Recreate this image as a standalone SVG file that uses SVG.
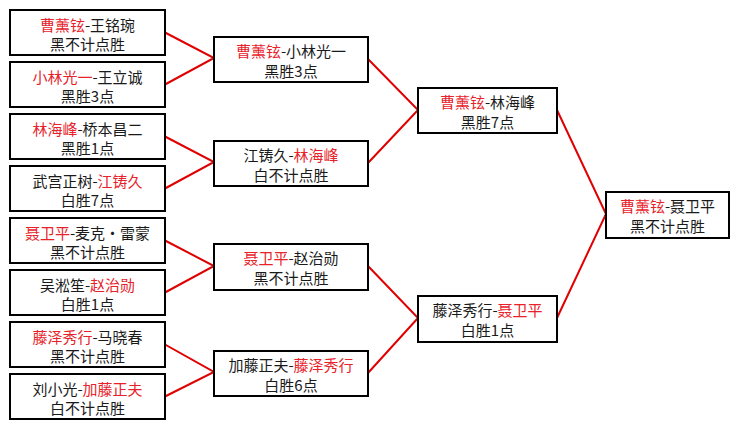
<svg xmlns="http://www.w3.org/2000/svg" width="739" height="429" viewBox="0 0 739 429">
<style>
.box{fill:#fff;stroke:#000;stroke-width:2}
.t{font-family:"Noto Sans CJK SC","Noto Sans",sans-serif;font-size:15px;fill:#1a1a1a;text-anchor:middle}
.r{fill:#e8222a}
.c{fill:none;stroke:#e00000;stroke-width:2}
</style>
<rect width="739" height="429" fill="#fff"/>
<g id="connectors">
<polyline class="c" points="165,32.5 214,58 165,84.5"/>
<polyline class="c" points="165,136.5 214,162 165,188.5"/>
<polyline class="c" points="165,240.5 214,266 165,292.5"/>
<polyline class="c" points="165,344.5 214,372 165,396.5"/>
<polyline class="c" points="368,59 418,110 368,163"/>
<polyline class="c" points="368,266 418,318 368,373"/>
<polyline class="c" points="557,110 606,214 557,318"/>
</g>
<g id="n1"><rect class="box" x="10" y="10" width="155" height="45"/><text class="t" x="87.5" y="31"><tspan class="r">曹薰铉</tspan>-王铭琬</text><text class="t" x="87.5" y="50">黑不计点胜</text></g>
<g id="n2"><rect class="box" x="10" y="62" width="155" height="45"/><text class="t" x="87.5" y="83"><tspan class="r">小林光一</tspan>-王立诚</text><text class="t" x="87.5" y="102">黑胜3点</text></g>
<g id="n3"><rect class="box" x="10" y="114" width="155" height="45"/><text class="t" x="87.5" y="135"><tspan class="r">林海峰</tspan>-桥本昌二</text><text class="t" x="87.5" y="154">黑胜1点</text></g>
<g id="n4"><rect class="box" x="10" y="166" width="155" height="45"/><text class="t" x="87.5" y="187">武宫正树-<tspan class="r">江铸久</tspan></text><text class="t" x="87.5" y="206">白胜7点</text></g>
<g id="n5"><rect class="box" x="10" y="218" width="155" height="45"/><text class="t" x="87.5" y="239"><tspan class="r">聂卫平</tspan>-麦克・雷蒙</text><text class="t" x="87.5" y="258">黑不计点胜</text></g>
<g id="n6"><rect class="box" x="10" y="270" width="155" height="45"/><text class="t" x="87.5" y="291">吴淞笙-<tspan class="r">赵治勋</tspan></text><text class="t" x="87.5" y="310">白胜1点</text></g>
<g id="n7"><rect class="box" x="10" y="322" width="155" height="45"/><text class="t" x="87.5" y="343"><tspan class="r">藤泽秀行</tspan>-马晓春</text><text class="t" x="87.5" y="362">黑不计点胜</text></g>
<g id="n8"><rect class="box" x="10" y="374" width="155" height="45"/><text class="t" x="87.5" y="395">刘小光-<tspan class="r">加藤正夫</tspan></text><text class="t" x="87.5" y="414">白不计点胜</text></g>
<g id="q1"><rect class="box" x="214" y="37" width="154" height="45"/><text class="t" x="291" y="57"><tspan class="r">曹薰铉</tspan>-小林光一</text><text class="t" x="291" y="77">黑胜3点</text></g>
<g id="q2"><rect class="box" x="214" y="141" width="154" height="45"/><text class="t" x="291" y="161">江铸久-<tspan class="r">林海峰</tspan></text><text class="t" x="291" y="181">白不计点胜</text></g>
<g id="q3"><rect class="box" x="214" y="244" width="154" height="46"/><text class="t" x="291" y="264"><tspan class="r">聂卫平</tspan>-赵治勋</text><text class="t" x="291" y="284">黑不计点胜</text></g>
<g id="q4"><rect class="box" x="214" y="351" width="154" height="45"/><text class="t" x="291" y="371">加藤正夫-<tspan class="r">藤泽秀行</tspan></text><text class="t" x="291" y="391">白胜6点</text></g>
<g id="s1"><rect class="box" x="418" y="88" width="139" height="45"/><text class="t" x="487.5" y="108"><tspan class="r">曹薰铉</tspan>-林海峰</text><text class="t" x="487.5" y="128">黑胜7点</text></g>
<g id="s2"><rect class="box" x="418" y="296" width="139" height="46"/><text class="t" x="487.5" y="316">藤泽秀行-<tspan class="r">聂卫平</tspan></text><text class="t" x="487.5" y="336">白胜1点</text></g>
<g id="f"><rect class="box" x="606" y="192" width="123" height="46"/><text class="t" x="667.5" y="212"><tspan class="r">曹薰铉</tspan>-聂卫平</text><text class="t" x="667.5" y="232">黑不计点胜</text></g>
</svg>
